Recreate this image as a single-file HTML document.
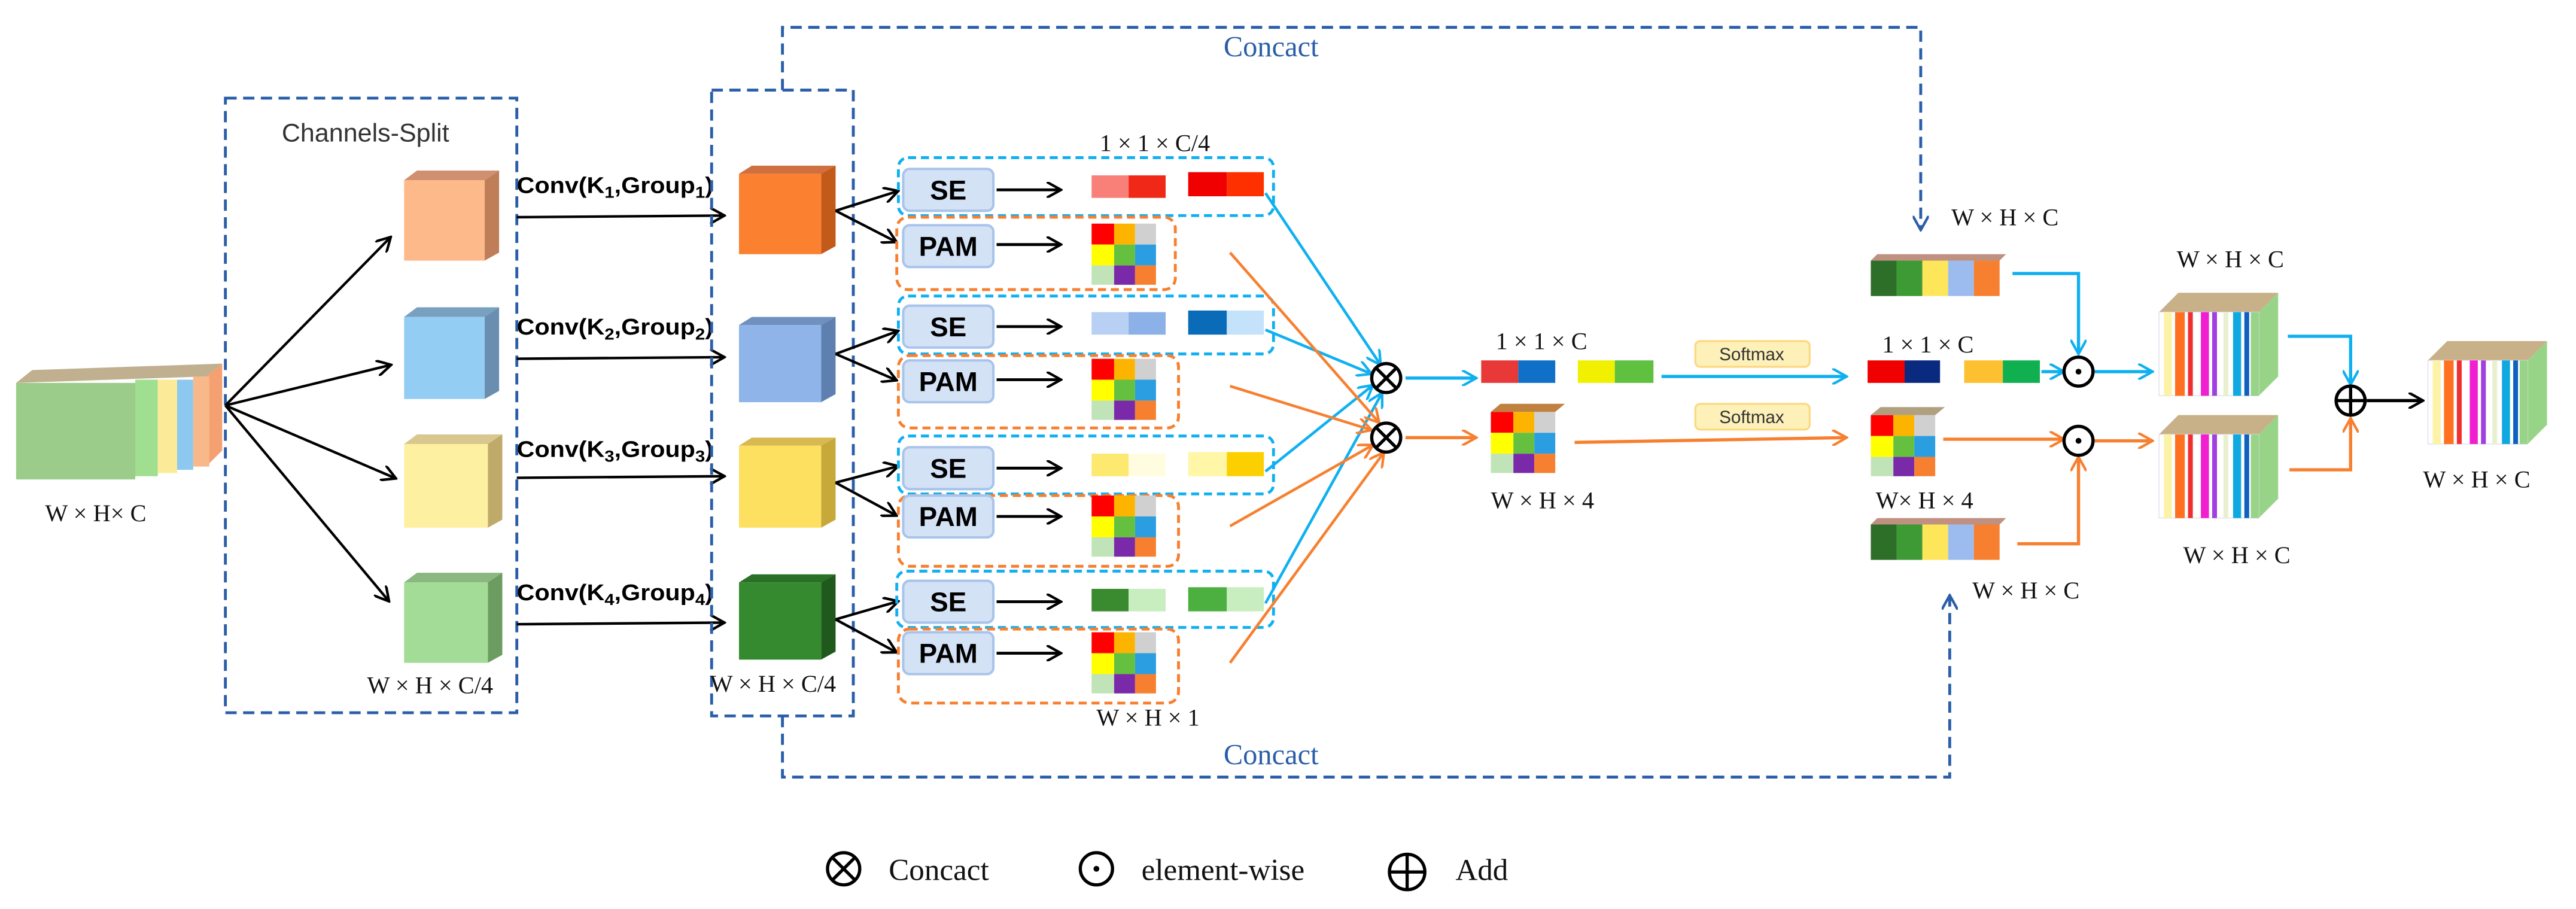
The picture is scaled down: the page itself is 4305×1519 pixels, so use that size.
<!DOCTYPE html>
<html><head><meta charset="utf-8"><style>
html,body{margin:0;padding:0;background:#fff;}
svg{display:block;}
.s{font-family:"Liberation Serif",serif;font-size:15px;fill:#111;}
.c{font-family:"Liberation Sans",sans-serif;font-size:14px;font-weight:bold;fill:#000;}
.b{font-family:"Liberation Sans",sans-serif;font-size:17px;font-weight:bold;fill:#000;}
</style></head><body>
<svg width="4305" height="1519" viewBox="0 0 1600 565" preserveAspectRatio="none" xmlns="http://www.w3.org/2000/svg">
<defs>
<marker id="ak" markerWidth="10" markerHeight="10" refX="8" refY="5" orient="auto" markerUnits="userSpaceOnUse"><path d="M0,0 L9,5 L0,10" fill="none" stroke="#000" stroke-width="1.6"/></marker>
<marker id="ac" markerWidth="10" markerHeight="10" refX="8" refY="5" orient="auto" markerUnits="userSpaceOnUse"><path d="M0,0 L9,5 L0,10" fill="none" stroke="#10b0f0" stroke-width="1.6"/></marker>
<marker id="ao" markerWidth="10" markerHeight="10" refX="8" refY="5" orient="auto" markerUnits="userSpaceOnUse"><path d="M0,0 L9,5 L0,10" fill="none" stroke="#f78030" stroke-width="1.6"/></marker>
<marker id="ab" markerWidth="10" markerHeight="10" refX="8" refY="5" orient="auto" markerUnits="userSpaceOnUse"><path d="M0,0 L9,5 L0,10" fill="none" stroke="#2a5ea8" stroke-width="1.6"/></marker>
<g id="grid">
<rect x="0" y="0" width="14" height="13" fill="#f00"/><rect x="14" y="0" width="13" height="13" fill="#fdb400"/><rect x="27" y="0" width="13" height="13" fill="#d0d0d0"/>
<rect x="0" y="13" width="14" height="13" fill="#ff0"/><rect x="14" y="13" width="13" height="13" fill="#66c040"/><rect x="27" y="13" width="13" height="13" fill="#2a9ee0"/>
<rect x="0" y="26" width="14" height="12" fill="#c0e4b8"/><rect x="14" y="26" width="13" height="12" fill="#7a2aa8"/><rect x="27" y="26" width="13" height="12" fill="#f78030"/>
</g>
<g id="bar5">
<polygon points="0,4 4,0 84,0 80,4" fill="#c09080"/>
<rect x="0" y="4" width="16" height="22" fill="#2d6e28"/><rect x="16" y="4" width="16" height="22" fill="#3d9a34"/><rect x="32" y="4" width="16" height="22" fill="#fde65a"/><rect x="48" y="4" width="16" height="22" fill="#9cbcf0"/><rect x="64" y="4" width="16" height="22" fill="#f78030"/>
</g>
<g id="stripe">
<polygon points="0,12 12,0 74,0 62,12" fill="#c8b088"/>
<polygon points="62,12 74,0 74,52 62,64" fill="#98d488"/>
<rect x="0" y="12" width="62" height="52" fill="#fff" stroke="#dde" stroke-width="0.5"/>
<rect x="3" y="12" width="5" height="52" fill="#fdf3a8"/><rect x="10" y="12" width="6" height="52" fill="#ff7020"/><rect x="18" y="12" width="3" height="52" fill="#f03030"/><rect x="26" y="12" width="5" height="52" fill="#f020d0"/><rect x="33" y="12" width="3" height="52" fill="#a040e0"/><rect x="40" y="12" width="3" height="52" fill="#e8f0d0"/><rect x="46" y="12" width="5" height="52" fill="#10a8e0"/><rect x="53" y="12" width="3" height="52" fill="#1060c0"/><rect x="57" y="12" width="5" height="52" fill="#98d488"/>
</g>
</defs>

<polygon points="10,238 20,230 138,226 128,234" fill="#c0b090"/>
<polygon points="128,234 138,226 138,280 128,290" fill="#f4a070"/>
<rect x="10" y="238" width="74" height="60" fill="#9ccc8a"/>
<rect x="84" y="236" width="14" height="60" fill="#a0de90"/>
<rect x="98" y="236" width="12" height="58" fill="#fbeb98"/>
<rect x="110" y="236" width="10" height="56" fill="#8cc8f0"/>
<rect x="120" y="234" width="10" height="56" fill="#f8b88a"/>
<text class="s" x="28" y="324">W × H× C</text>

<rect x="140" y="61" width="181" height="382" fill="none" stroke="#2a5ea8" stroke-width="1.8" stroke-dasharray="7,4"/>
<text x="227" y="88" text-anchor="middle" font-family="Liberation Sans,sans-serif" font-size="16" fill="#333">Channels-Split</text>

<g stroke="#000" stroke-width="1.6" fill="none" marker-end="url(#ak)">
<line x1="140" y1="252" x2="242" y2="148"/>
<line x1="140" y1="252" x2="242" y2="227"/>
<line x1="140" y1="252" x2="245" y2="297"/>
<line x1="140" y1="252" x2="241" y2="373"/>
</g>

<g>
<polygon points="251,112 259,106 310,106 301,112" fill="#d09070"/><polygon points="301,112 310,106 310,157 301,162" fill="#c07e58"/><rect x="251" y="112" width="50" height="50" fill="#fdb98a"/>
<polygon points="251,197 259,191 310,191 301,197" fill="#7aa0c0"/><polygon points="301,197 310,191 310,243 301,248" fill="#6a8eb0"/><rect x="251" y="197" width="50" height="51" fill="#93cdf3"/>
<polygon points="251,276 259,270 312,270 303,276" fill="#d8c890"/><polygon points="303,276 312,270 312,323 303,328" fill="#c0aa6a"/><rect x="251" y="276" width="52" height="52" fill="#fdf0a0"/>
<polygon points="251,362 259,356 312,356 303,362" fill="#8ab880"/><polygon points="303,362 312,356 312,407 303,412" fill="#6c9c60"/><rect x="251" y="362" width="52" height="50" fill="#a2dc96"/>
</g>
<text class="s" x="228" y="431">W × H × C/4</text>

<text class="c" x="321" y="120" textLength="122" lengthAdjust="spacingAndGlyphs">Conv(K<tspan font-size="10" dy="3">1</tspan><tspan dy="-3">,Group</tspan><tspan font-size="10" dy="3">1</tspan><tspan dy="-3">)</tspan></text>
<text class="c" x="321" y="208" textLength="122" lengthAdjust="spacingAndGlyphs">Conv(K<tspan font-size="10" dy="3">2</tspan><tspan dy="-3">,Group</tspan><tspan font-size="10" dy="3">2</tspan><tspan dy="-3">)</tspan></text>
<text class="c" x="321" y="284" textLength="122" lengthAdjust="spacingAndGlyphs">Conv(K<tspan font-size="10" dy="3">3</tspan><tspan dy="-3">,Group</tspan><tspan font-size="10" dy="3">3</tspan><tspan dy="-3">)</tspan></text>
<text class="c" x="321" y="373" textLength="122" lengthAdjust="spacingAndGlyphs">Conv(K<tspan font-size="10" dy="3">4</tspan><tspan dy="-3">,Group</tspan><tspan font-size="10" dy="3">4</tspan><tspan dy="-3">)</tspan></text>
<g stroke="#000" stroke-width="1.6" marker-end="url(#ak)">
<line x1="321" y1="135" x2="449" y2="134"/>
<line x1="321" y1="223" x2="449" y2="222"/>
<line x1="321" y1="297" x2="449" y2="296"/>
<line x1="321" y1="388" x2="449" y2="387"/>
</g>

<rect x="442" y="56" width="88" height="389" fill="none" stroke="#2a5ea8" stroke-width="1.8" stroke-dasharray="7,4"/>
<g>
<polygon points="459,108 467,103 519,103 510,108" fill="#d07040"/><polygon points="510,108 519,103 519,153 510,158" fill="#c45a1a"/><rect x="459" y="108" width="51" height="50" fill="#fb8030"/>
<polygon points="459,202 467,197 519,197 510,202" fill="#7090c0"/><polygon points="510,202 519,197 519,245 510,250" fill="#5e80b0"/><rect x="459" y="202" width="51" height="48" fill="#8eb4ea"/>
<polygon points="459,277 467,272 519,272 510,277" fill="#d8b850"/><polygon points="510,277 519,272 519,323 510,328" fill="#c7a93a"/><rect x="459" y="277" width="51" height="51" fill="#fde060"/>
<polygon points="459,362 467,357 519,357 510,362" fill="#2a7026"/><polygon points="510,362 519,357 519,405 510,410" fill="#1f5a1c"/><rect x="459" y="362" width="51" height="48" fill="#358a30"/>
</g>
<text class="s" x="441" y="430">W × H × C/4</text>

<path d="M486,56 V17 H1193 V142" fill="none" stroke="#2a5ea8" stroke-width="1.8" stroke-dasharray="7,4" marker-end="url(#ab)"/>
<path d="M486,445 V483 H1211 V371" fill="none" stroke="#2a5ea8" stroke-width="1.8" stroke-dasharray="7,4" marker-end="url(#ab)"/>
<text x="760" y="35" font-family="Liberation Serif,serif" font-size="18" fill="#2a5ea8">Concact</text>
<text x="760" y="475" font-family="Liberation Serif,serif" font-size="18" fill="#2a5ea8">Concact</text>

<g>
<g stroke="#000" stroke-width="1.6" fill="none" marker-end="url(#ak)">
<line x1="519" y1="131" x2="557" y2="119"/><line x1="519" y1="131" x2="556" y2="150"/>
<line x1="519" y1="220" x2="557" y2="206"/><line x1="519" y1="220" x2="556" y2="236"/>
<line x1="519" y1="300" x2="557" y2="290"/><line x1="519" y1="300" x2="556" y2="320"/>
<line x1="519" y1="385" x2="557" y2="374"/><line x1="519" y1="385" x2="556" y2="405"/>
</g>
<g fill="none" stroke-width="1.8" stroke-dasharray="5,3">
<rect x="558" y="98" width="233" height="36" rx="6" stroke="#10b0f0"/>
<rect x="558" y="184" width="233" height="36" rx="6" stroke="#10b0f0"/>
<rect x="558" y="271" width="233" height="36" rx="6" stroke="#10b0f0"/>
<rect x="557" y="355" width="234" height="35" rx="6" stroke="#10b0f0"/>
<rect x="557" y="135" width="173" height="45" rx="7" stroke="#f78030"/>
<rect x="558" y="221" width="174" height="45" rx="7" stroke="#f78030"/>
<rect x="558" y="308" width="174" height="44" rx="7" stroke="#f78030"/>
<rect x="558" y="391" width="174" height="46" rx="7" stroke="#f78030"/>
</g>
<g fill="#d4e2f6" stroke="#a8c4ea" stroke-width="1.5">
<rect x="561" y="105" width="56" height="26" rx="4"/><rect x="561" y="140" width="56" height="26" rx="4"/>
<rect x="561" y="190" width="56" height="26" rx="4"/><rect x="561" y="224" width="56" height="26" rx="4"/>
<rect x="561" y="278" width="56" height="26" rx="4"/><rect x="561" y="308" width="56" height="26" rx="4"/>
<rect x="561" y="361" width="56" height="26" rx="4"/><rect x="561" y="393" width="56" height="26" rx="4"/>
</g>
<text class="b" x="589" y="124" text-anchor="middle">SE</text><text class="b" x="589" y="159" text-anchor="middle">PAM</text>
<text class="b" x="589" y="209" text-anchor="middle">SE</text><text class="b" x="589" y="243" text-anchor="middle">PAM</text>
<text class="b" x="589" y="297" text-anchor="middle">SE</text><text class="b" x="589" y="327" text-anchor="middle">PAM</text>
<text class="b" x="589" y="380" text-anchor="middle">SE</text><text class="b" x="589" y="412" text-anchor="middle">PAM</text>
<g stroke="#000" stroke-width="1.8" marker-end="url(#ak)">
<line x1="619" y1="118" x2="658" y2="118"/><line x1="619" y1="152" x2="658" y2="152"/>
<line x1="619" y1="203" x2="658" y2="203"/><line x1="619" y1="236" x2="658" y2="236"/>
<line x1="619" y1="291" x2="658" y2="291"/><line x1="619" y1="321" x2="658" y2="321"/>
<line x1="619" y1="374" x2="658" y2="374"/><line x1="619" y1="406" x2="658" y2="406"/>
</g>
<rect x="678" y="109" width="23" height="14" fill="#f88078"/><rect x="701" y="109" width="23" height="14" fill="#f02818"/>
<rect x="738" y="107" width="24" height="15" fill="#f00000"/><rect x="762" y="107" width="23" height="15" fill="#ff3000"/>
<rect x="678" y="194" width="23" height="14" fill="#b8d0f4"/><rect x="701" y="194" width="23" height="14" fill="#8cb0e8"/>
<rect x="738" y="193" width="24" height="15" fill="#0a6cb8"/><rect x="762" y="193" width="23" height="15" fill="#c4e2fa"/>
<rect x="678" y="282" width="23" height="14" fill="#fde870"/><rect x="701" y="282" width="23" height="14" fill="#fffce0"/>
<rect x="738" y="281" width="24" height="15" fill="#fff6a8"/><rect x="762" y="281" width="23" height="15" fill="#fcd000"/>
<rect x="678" y="366" width="23" height="14" fill="#3a8a30"/><rect x="701" y="366" width="23" height="14" fill="#c8eec0"/>
<rect x="738" y="365" width="24" height="15" fill="#4cb040"/><rect x="762" y="365" width="23" height="15" fill="#c8eec0"/>
<use href="#grid" x="678" y="139"/><use href="#grid" x="678" y="223"/><use href="#grid" x="678" y="308"/><use href="#grid" x="678" y="393"/>
</g>
<text class="s" x="683" y="94">1 × 1 × C/4</text>
<text class="s" x="681" y="451">W × H × 1</text>

<g stroke="#10b0f0" stroke-width="1.7" fill="none" marker-end="url(#ac)">
<line x1="786" y1="120" x2="857" y2="226"/>
<line x1="786" y1="205" x2="851" y2="232"/>
<line x1="786" y1="293" x2="852" y2="240"/>
<line x1="786" y1="375" x2="858" y2="245"/>
</g>
<g stroke="#f78030" stroke-width="1.7" fill="none" marker-end="url(#ao)">
<line x1="764" y1="157" x2="856" y2="262"/>
<line x1="764" y1="240" x2="851" y2="267"/>
<line x1="764" y1="327" x2="852" y2="277"/>
<line x1="764" y1="412" x2="859" y2="282"/>
</g>
<g stroke="#000" stroke-width="2" fill="#fff">
<circle cx="861" cy="235" r="9"/><line x1="855" y1="229" x2="867" y2="241"/><line x1="867" y1="229" x2="855" y2="241"/>
<circle cx="861" cy="272" r="9"/><line x1="855" y1="266" x2="867" y2="278"/><line x1="867" y1="266" x2="855" y2="278"/>
</g>
<line x1="873" y1="235" x2="916" y2="235" stroke="#10b0f0" stroke-width="2" marker-end="url(#ac)"/>
<line x1="873" y1="272" x2="916" y2="272" stroke="#f78030" stroke-width="2" marker-end="url(#ao)"/>

<text class="s" x="929" y="217">1 × 1 × C</text>
<rect x="920" y="224" width="23" height="14" fill="#e83838"/><rect x="943" y="224" width="23" height="14" fill="#1070c8"/>
<rect x="980" y="224" width="23" height="14" fill="#f0f000"/><rect x="1003" y="224" width="24" height="14" fill="#60c040"/>
<use href="#grid" x="926" y="256"/>
<polygon points="926,256 932,251 972,251 966,256" fill="#c08040"/>
<text class="s" x="926" y="316">W × H × 4</text>

<rect x="1053" y="212" width="71" height="16" rx="3" fill="#fdf0b8" stroke="#fcd880" stroke-width="1.2"/>
<text x="1088" y="224" text-anchor="middle" font-family="Liberation Sans,sans-serif" font-size="11" fill="#333">Softmax</text>
<rect x="1053" y="251" width="71" height="16" rx="3" fill="#fdf0b8" stroke="#fcd880" stroke-width="1.2"/>
<text x="1088" y="263" text-anchor="middle" font-family="Liberation Sans,sans-serif" font-size="11" fill="#333">Softmax</text>
<line x1="1032" y1="234" x2="1146" y2="234" stroke="#10b0f0" stroke-width="2" marker-end="url(#ac)"/>
<line x1="978" y1="275" x2="1146" y2="272" stroke="#f78030" stroke-width="2" marker-end="url(#ao)"/>

<text class="s" x="1212" y="140">W × H × C</text>
<use href="#bar5" x="1162" y="158"/>
<text class="s" x="1169" y="219">1 × 1 × C</text>
<rect x="1160" y="224" width="23" height="14" fill="#f00000"/><rect x="1183" y="224" width="22" height="14" fill="#0a2a80"/>
<rect x="1220" y="224" width="24" height="14" fill="#fcc030"/><rect x="1244" y="224" width="23" height="14" fill="#10b050"/>
<use href="#grid" x="1162" y="258"/>
<polygon points="1162,258 1168,253 1208,253 1202,258" fill="#b0a080"/>
<text class="s" x="1165" y="316">W× H × 4</text>
<use href="#bar5" x="1162" y="322"/>
<text class="s" x="1225" y="372">W × H × C</text>

<path d="M1250,170 H1291 V219" fill="none" stroke="#10b0f0" stroke-width="2" marker-end="url(#ac)"/>
<line x1="1268" y1="231" x2="1281" y2="231" stroke="#10b0f0" stroke-width="2" marker-end="url(#ac)"/>
<path d="M1253,338 H1291 V285" fill="none" stroke="#f78030" stroke-width="2" marker-end="url(#ao)"/>
<line x1="1207" y1="273" x2="1281" y2="273" stroke="#f78030" stroke-width="2" marker-end="url(#ao)"/>
<g stroke="#000" stroke-width="2" fill="#fff">
<circle cx="1291" cy="231" r="9"/><circle cx="1291" cy="274" r="9"/>
</g>
<circle cx="1291" cy="231" r="1.8" fill="#000"/><circle cx="1291" cy="274" r="1.8" fill="#000"/>
<line x1="1301" y1="231" x2="1336" y2="231" stroke="#10b0f0" stroke-width="2" marker-end="url(#ac)"/>
<line x1="1301" y1="274" x2="1336" y2="274" stroke="#f78030" stroke-width="2" marker-end="url(#ao)"/>

<use href="#stripe" x="1341" y="182"/>
<use href="#stripe" x="1341" y="258"/>
<text class="s" x="1352" y="166">W × H × C</text>
<text class="s" x="1356" y="350">W × H × C</text>

<path d="M1421,209 H1460 V238" fill="none" stroke="#10b0f0" stroke-width="2" marker-end="url(#ac)"/>
<path d="M1422,292 H1460 V261" fill="none" stroke="#f78030" stroke-width="2" marker-end="url(#ao)"/>
<g stroke="#000" stroke-width="2" fill="#fff">
<circle cx="1460" cy="249" r="9"/><line x1="1451" y1="249" x2="1469" y2="249"/><line x1="1460" y1="240" x2="1460" y2="258"/>
</g>
<line x1="1470" y1="249" x2="1504" y2="249" stroke="#000" stroke-width="2" marker-end="url(#ak)"/>
<use href="#stripe" x="1508" y="212"/>
<text class="s" x="1505" y="303">W × H × C</text>

<g stroke="#000" stroke-width="2" fill="none">
<circle cx="524" cy="540" r="10"/><line x1="517" y1="533" x2="531" y2="547"/><line x1="531" y1="533" x2="517" y2="547"/>
<circle cx="681" cy="540" r="10"/>
<circle cx="874" cy="542" r="11"/><line x1="863" y1="542" x2="885" y2="542"/><line x1="874" y1="531" x2="874" y2="553"/>
</g>
<circle cx="681" cy="540" r="1.8" fill="#000"/>
<text x="552" y="547" font-family="Liberation Serif,serif" font-size="19" fill="#111">Concact</text>
<text x="709" y="547" font-family="Liberation Serif,serif" font-size="19" fill="#111">element-wise</text>
<text x="904" y="547" font-family="Liberation Serif,serif" font-size="19" fill="#111">Add</text>
</svg>
</body></html>
